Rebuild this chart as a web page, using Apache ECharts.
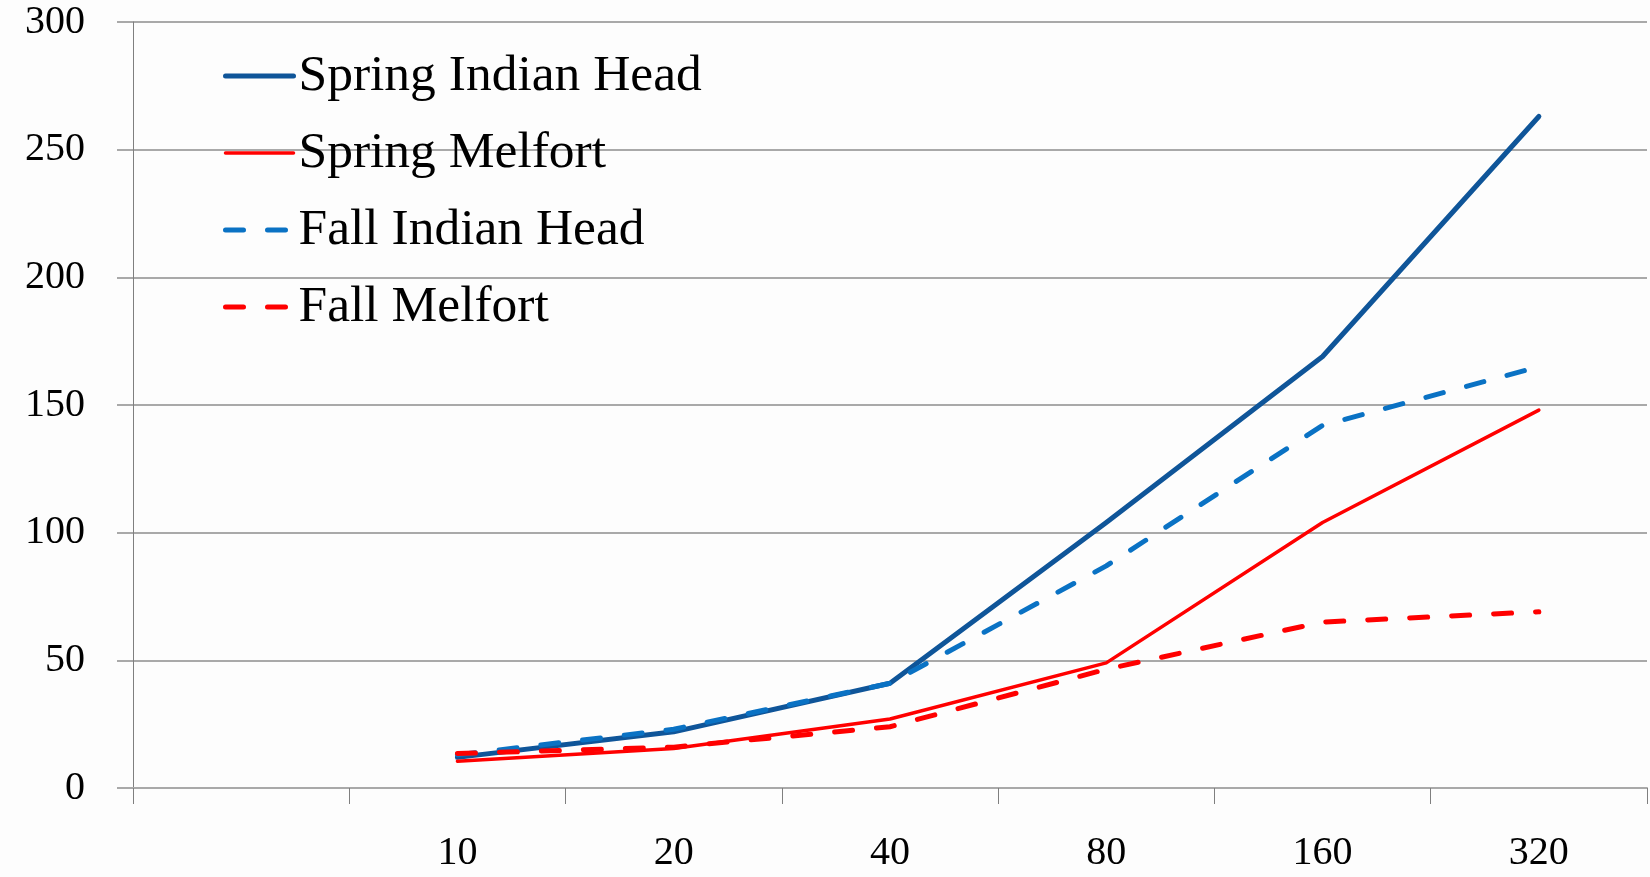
<!DOCTYPE html>
<html>
<head>
<meta charset="utf-8">
<script src="https://cdn.jsdelivr.net/npm/echarts@6/dist/echarts.min.js"></script>
<style>
html,body{margin:0;padding:0;background:#fdfdfd;}
#chart{width:1650px;height:877px;}
</style>
</head>
<body>
<div id="chart"></div>
<script>
// Data
var categories = ['', '10', '20', '40', '80', '160', '320'];
var springIndianHead = [null, 12, 22, 41, 104, 169, 263];
var springMelfort = [null, 10.5, 15.5, 27, 49, 104, 148];
var fallIndianHead = [null, 13, 23, 41, 87, 142, 165];
var fallMelfort = [null, 13.5, 16, 24, 46.5, 65, 69];
var seriesNames = ['Spring Indian Head', 'Spring Melfort', 'Fall Indian Head', 'Fall Melfort'];
var yTicks = {min: 0, max: 300, interval: 50};

var FONT = "'Liberation Serif', 'DejaVu Serif', serif";
var chart = echarts.init(document.getElementById('chart'), null, {renderer: 'canvas'});

function lineSeries(name, data, color, width, dashed) {
  return {
    name: name,
    type: 'line',
    data: data,
    symbol: 'none',
    showSymbol: false,
    animation: false,
    lineStyle: {
      color: color,
      width: width,
      type: dashed ? [18, 24] : 'solid',
      cap: 'round',
      join: 'round'
    },
    itemStyle: {color: color}
  };
}

chart.setOption({
  backgroundColor: '#fdfdfd',
  animation: false,
  grid: {left: 133, right: 3, top: 22, bottom: 89, containLabel: false},
  legend: {
    orient: 'vertical',
    left: 218,
    top: 45,
    itemWidth: 68,
    itemHeight: 14,
    itemGap: 25,
    itemStyle: {opacity: 0},
    lineStyle: {width: 'inherit', cap: 'round', inactiveWidth: 5},
    textStyle: {fontFamily: FONT, fontSize: 51.5, color: '#000', lineHeight: 51},
    data: seriesNames
  },
  xAxis: {
    type: 'category',
    data: categories,
    boundaryGap: true,
    axisLine: {show: true, lineStyle: {color: '#a9a9a9', width: 2}},
    axisTick: {show: true, length: 16, alignWithLabel: false, lineStyle: {color: '#7f7f7f', width: 1}},
    axisLabel: {fontFamily: FONT, fontSize: 40, color: '#000', margin: 65, verticalAlign: 'middle', interval: 0},
    splitLine: {show: false}
  },
  yAxis: {
    type: 'value',
    min: yTicks.min,
    max: yTicks.max,
    interval: yTicks.interval,
    axisLine: {show: true, lineStyle: {color: '#7f7f7f', width: 1}},
    axisTick: {show: true, length: 16, lineStyle: {color: '#a9a9a9', width: 2}},
    axisLabel: {fontFamily: FONT, fontSize: 40, color: '#000', margin: 48},
    splitLine: {show: true, lineStyle: {color: '#a9a9a9', width: 2}}
  },
  series: [
    lineSeries(seriesNames[0], springIndianHead, '#0f5599', 5, false),
    lineSeries(seriesNames[1], springMelfort, '#ff0000', 3.5, false),
    lineSeries(seriesNames[2], fallIndianHead, '#0a72c4', 5, true),
    lineSeries(seriesNames[3], fallMelfort, '#ff0000', 5, true)
  ]
});
</script>
</body>
</html>
